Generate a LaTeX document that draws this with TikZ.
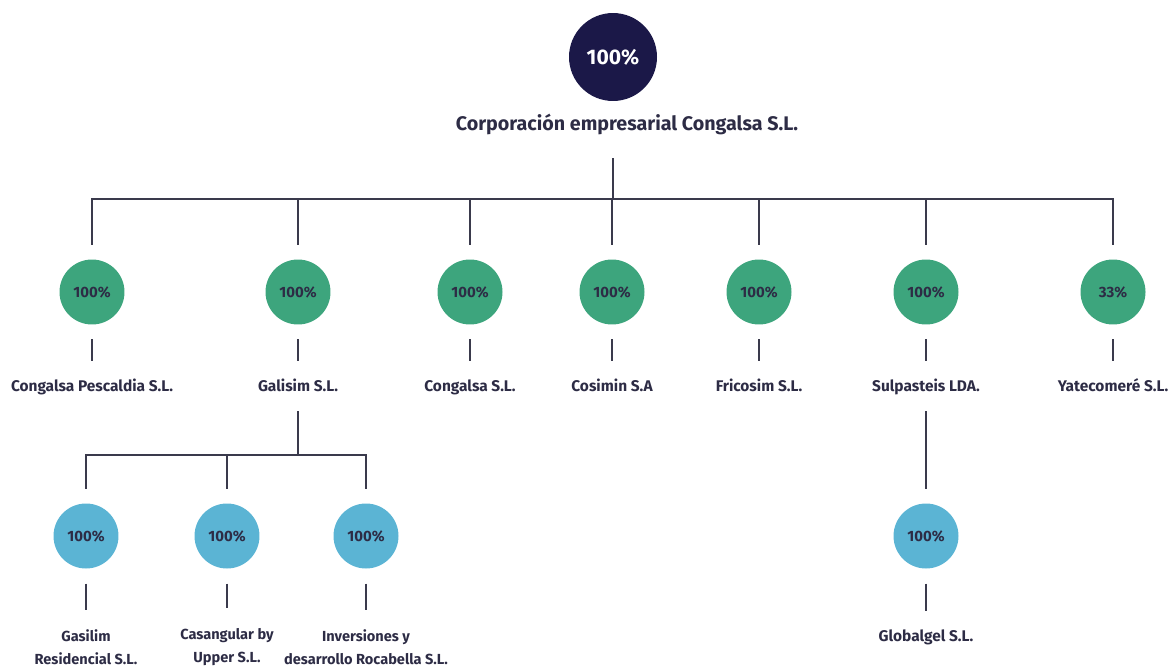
\documentclass[tikz,border=0pt]{standalone}
\usepackage{fontspec}
\setmainfont{Fira Sans}
\usetikzlibrary{positioning}

\definecolor{navy}{HTML}{1B1848}
\definecolor{jade}{HTML}{3DA57D}
\definecolor{sky}{HTML}{5BB4D4}
\definecolor{ink}{HTML}{2D2C45}
\definecolor{wire}{HTML}{3A3A4C}

\tikzset{
	pct/.style = {circle, minimum size = 1.3cm, inner sep = 0, outer sep = 0.3cm, text = ink, font = \bfseries\fontsize{8.5}{10}\selectfont},
	lbl/.style = {inner sep = 0, outer sep = 0.34cm, text = ink, text height = 1.5ex, text depth = 0.3ex, font = \bfseries\fontsize{8.8}{10}\selectfont},
	lbltwo/.style = {inner sep = 0, outer sep = 0.4cm, text = ink, align = center, font = \bfseries\fontsize{8.3}{13}\selectfont},
	link/.style = {draw = wire, line width = 1.1pt}
}

\begin{document}
\begin{tikzpicture}[x = 0.02cm, y = -0.02cm]
	\useasboundingbox (0,0) rectangle (1175,666);

	% parent company
	\node [pct, fill = navy, text = white, minimum size = 1.76cm, font = \bfseries\fontsize{12}{14}\selectfont] (corp) at (613, 57) {100\%};
	\node [lbl, outer sep = 0.5cm, font = \bfseries\fontsize{11.2}{13}\selectfont] (corpName) at (627, 125) {Corporación empresarial Congalsa S.L.};

	%% main bus
	\def \busY {199};
	\coordinate (busA) at (613, \busY);
	\draw [link] (busA |- corpName.south) -- (busA);

	% first level subsidiaries
	\def \rowG {292};
	\foreach \name/\x/\pc/\txt in {pesc/92/100/Congalsa Pescaldia S.L., gali/298/100/Galisim S.L., cong/470/100/Congalsa S.L., cosi/612/100/Cosimin S.A, fric/759/100/Fricosim S.L., sulp/926/100/Sulpasteis LDA., yate/1113/33/Yatecomeré S.L.}
	{
		\node [pct, fill = jade] (\name) at (\x, \rowG) {\pc\%};
		\node [lbl] (\name Name) at (\x, 386) {\txt};
		\draw [link] (busA) -| (\name);
		\draw [link] (\name) -- (\name Name);
	}

	% Galisim subsidiaries
	\def \rowS {536};
	\coordinate (busB) at (298, 455);
	\draw [link] (galiName) -- (busB);
	\foreach \name/\x/\txt in {gasi/86/Gasilim\\Residencial S.L., casa/227/Casangular by\\Upper S.L., inve/366/Inversiones y\\desarrollo Rocabella S.L.}
	{
		\node [pct, fill = sky] (\name) at (\x, \rowS) {100\%};
		\node [lbltwo] (\name Name) at (\x, 647) {\txt};
		\draw [link] (busB) -| (\name);
		\draw [link] (\name) -- (\name Name);
	}

	% Sulpasteis subsidiary
	\node [pct, fill = sky] (glob) at (926, \rowS) {100\%};
	\node [lbl] (globName) at (926, 636) {Globalgel S.L.};
	\draw [link] (sulpName) -- (glob);
	\draw [link] (glob) -- (globName);

\end{tikzpicture}
\end{document}
